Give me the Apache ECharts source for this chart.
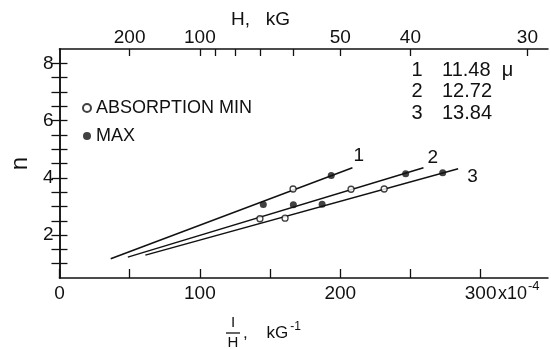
<!DOCTYPE html>
<html>
<head>
<meta charset="utf-8">
<script src="https://cdn.jsdelivr.net/npm/echarts@6/dist/echarts.min.js"></script>
<style>html,body{margin:0;padding:0;background:#fff}#c{width:551px;height:349px}</style>
</head>
<body>
<div id="c"></div>
<script>
// ---- data ----
const xTickValues = [0, 50, 100, 150, 200, 250, 300];
const xLabelValues = [0, 100, 200, 300];
const yTickValues = [1, 1.5, 2, 2.5, 3, 3.5, 4, 4.5, 5, 5.5, 6, 6.5, 7, 7.5, 8];
const yLabelValues = [2, 4, 6, 8];
const topTickH = [200, 100, 90, 80, 70, 60, 50, 40, 30];
const topLabelH = [200, 100, 50, 40, 30];

const lineNames = ['1', '2', '3'];
const wavelengths = ['11.48', '12.72', '13.84'];

const line1Fit = [[36.5, 1.17], [208.7, 4.35]];
const line2Fit = [[48.7, 1.23], [259.3, 4.35]];
const line3Fit = [[61.2, 1.30], [284.0, 4.32]];

const line1Min = [[166.4, 3.61]];
const line1Max = [[145.2, 3.07], [193.6, 4.08]];
const line2Min = [[142.8, 2.57], [207.7, 3.60]];
const line2Max = [[166.6, 3.06], [246.6, 4.14]];
const line3Min = [[160.7, 2.59], [231.3, 3.61]];
const line3Max = [[187.1, 3.08], [273.0, 4.18]];

// ---- chart ----
const FONT = 'Liberation Sans';
const ink = '#111';
const chart = echarts.init(document.getElementById('c'), null, {renderer: 'canvas'});

const fits = [line1Fit, line2Fit, line3Fit];
const endOffsets = [[-7, -12], [-4, -10], [1, 8]];

const lineSeries = fits.map((d, i) => ({
  type: 'line', name: 'fit' + lineNames[i], data: d, symbol: 'none', silent: true,
  lineStyle: {color: ink, width: 1.5},
  endLabel: {show: true, formatter: lineNames[i], color: ink, fontFamily: FONT, fontSize: 19, offset: endOffsets[i]}
}));

const minPts = [].concat(line1Min, line2Min, line3Min);
const maxPts = [].concat(line1Max, line2Max, line3Max);

const topPos = h => 1e4 / h;

chart.setOption({
  animation: false,
  backgroundColor: '#fff',
  grid: {left: 55, right: 3, top: 49, bottom: 71, containLabel: false},
  legend: {
    data: ['ABSORPTION MIN', 'MAX'], orient: 'vertical', left: 77, top: 94,
    itemWidth: 8, itemHeight: 8, itemGap: 10,
    textStyle: {fontFamily: FONT, fontSize: 18, color: ink}
  },
  xAxis: [{
    type: 'value', position: 'bottom', min: 0, max: 348,
    axisLine: {lineStyle: {color: ink, width: 1.5}},
    axisTick: {inside: true, length: 9, customValues: xTickValues, lineStyle: {color: ink, width: 1.3}},
    axisLabel: {customValues: xLabelValues, margin: 6, fontFamily: FONT, fontSize: 19, color: ink},
    splitLine: {show: false}
  }, {
    type: 'value', position: 'top', min: 0, max: 348,
    axisLine: {lineStyle: {color: ink, width: 1.5}},
    axisTick: {inside: true, length: 7, customValues: topTickH.map(topPos), lineStyle: {color: ink, width: 1.3}},
    axisLabel: {customValues: topLabelH.map(topPos), margin: 2, fontFamily: FONT, fontSize: 19, color: ink,
      formatter: v => String(Math.round(1e4 / v))},
    splitLine: {show: false}
  }],
  yAxis: [{
    type: 'value', position: 'left', min: 0.5, max: 8.5,
    name: 'n', nameLocation: 'middle', nameGap: 26, nameRotate: 90,
    nameTextStyle: {fontFamily: FONT, fontSize: 24, color: ink},
    axisLine: {lineStyle: {color: ink, width: 1.5}},
    axisTick: {inside: true, length: 8, customValues: yTickValues, lineStyle: {color: ink, width: 1.3}},
    axisLabel: {customValues: yLabelValues, margin: 6, fontFamily: FONT, fontSize: 19, color: ink},
    splitLine: {show: false}
  }, {
    type: 'value', position: 'right', min: 0.5, max: 8.5,
    axisLine: {show: true, lineStyle: {color: ink, width: 1.5}},
    axisTick: {show: true, inside: true, length: 8, customValues: yTickValues, lineStyle: {color: ink, width: 1.3}},
    axisLabel: {show: false},
    splitLine: {show: false}
  }],
  series: lineSeries.concat([
    {type: 'scatter', name: 'ABSORPTION MIN', data: minPts, symbol: 'circle', symbolSize: 6, z: 5,
      itemStyle: {color: '#fff', borderColor: ink, borderWidth: 1.3}},
    {type: 'scatter', name: 'MAX', data: maxPts, symbol: 'circle', symbolSize: 7, z: 5,
      itemStyle: {color: ink, borderColor: ink, borderWidth: 0}}
  ]),
  graphic: [
    {type: 'text', left: 231, top: 10, style: {text: 'H,   kG', fontFamily: FONT, fontSize: 19, fill: ink}},
    {type: 'text', left: 498, top: 280, style: {text: '{a|x10}{b|-4}', fill: ink,
      rich: {a: {fontFamily: FONT, fontSize: 18, fill: ink, verticalAlign: 'bottom'},
             b: {fontFamily: FONT, fontSize: 13, fill: ink, verticalAlign: 'top', padding: [0, 0, 10, 1]}}}},
    // x axis name: 1/H, kG^-1
    {type: 'text', x: 233, y: 330, style: {text: 'I', fontFamily: FONT, fontSize: 15, fill: ink, align: 'center', verticalAlign: 'bottom'}},
    {type: 'line', shape: {x1: 226, y1: 333, x2: 240, y2: 333}, style: {stroke: ink, lineWidth: 1.3}},
    {type: 'text', x: 233, y: 335, style: {text: 'H', fontFamily: FONT, fontSize: 15, fill: ink, align: 'center', verticalAlign: 'top'}},
    {type: 'text', x: 243, y: 333, style: {text: '{a|,    kG}{b|-1}', fill: ink, verticalAlign: 'middle',
      rich: {a: {fontFamily: FONT, fontSize: 17, fill: ink}, b: {fontFamily: FONT, fontSize: 12, fill: ink, padding: [0, 0, 12, 2]}}}},
    // top-right key
    {type: 'group', children: lineNames.map((n, i) => ({
      type: 'text', x: 417, y: 70 + i * 21.5,
      style: {text: n, fontFamily: FONT, fontSize: 20, fill: ink, align: 'center', verticalAlign: 'middle'}
    })).concat(wavelengths.map((w, i) => ({
      type: 'text', x: 442, y: 70 + i * 21.5,
      style: {text: w + (i === 0 ? '  μ' : ''), fontFamily: FONT, fontSize: 20, fill: ink, align: 'left', verticalAlign: 'middle'}
    })))}
  ]
});
</script>
</body>
</html>
